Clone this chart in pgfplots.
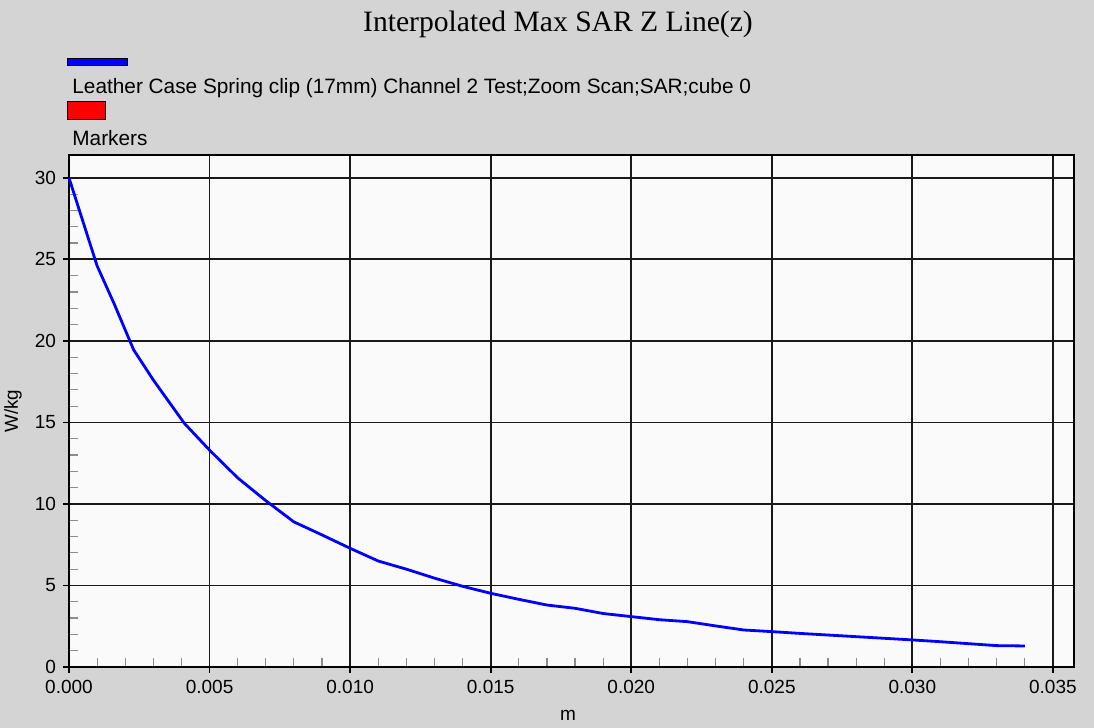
\documentclass[border=0pt]{standalone}
\usepackage{pgfplots}
\pgfplotsset{compat=1.18}
\usepackage{fontspec}
\setmainfont{Liberation Sans}
\newfontfamily\titlefont{Liberation Serif}
\definecolor{panelbg}{HTML}{D4D4D4}
\definecolor{plotbg}{HTML}{FAFAFA}
\definecolor{sarblue}{RGB}{0,0,255}

\pgfplotstableread{
z      sar
0.0000 30.0
0.0005 27.3
0.0010 24.6
0.0016 22.3
0.0023 19.45
0.0030 17.6
0.0041 14.95
0.0050 13.3
0.0060 11.6
0.0070 10.2
0.0080 8.9
0.0090 8.1
0.0100 7.28
0.0110 6.5
0.0120 6.0
0.0130 5.45
0.0140 4.95
0.0150 4.52
0.0160 4.15
0.0170 3.80
0.0180 3.60
0.0190 3.28
0.0200 3.09
0.0210 2.90
0.0220 2.78
0.0230 2.52
0.0240 2.27
0.0250 2.17
0.0260 2.06
0.0270 1.96
0.0280 1.86
0.0290 1.76
0.0300 1.66
0.0310 1.55
0.0320 1.43
0.0330 1.31
0.0340 1.29
}\sartable

\begin{document}
\begin{tikzpicture}
% grey panel, 0.5pt per reference pixel
\fill[panelbg] (-34.5pt,-30.5pt) rectangle (512.5pt,333.5pt);

\begin{axis}[
  scale only axis, width=502.5pt, height=256pt,
  at={(0pt,0pt)}, anchor=south west,
  xmin=0, xmax=0.03575, ymin=0, ymax=31.4,
  xtick={0,0.005,0.010,0.015,0.020,0.025,0.030,0.035},
  ytick={0,5,10,15,20,25,30},
  minor x tick num=4, minor y tick num=4,
  xtick pos=bottom, ytick pos=left,
  scaled x ticks=false,
  xticklabel style={/pgf/number format/.cd, fixed, zerofill, precision=3},
  tick label style={font=\fontsize{9.5}{11}\selectfont},
  /pgf/number format/assume math mode=true,
  tick align=outside, major tick length=3pt, minor tick length=-4.5pt,
  major tick style={black, line width=0.9pt},
  minor tick style={black!45, line width=0.6pt},
  grid=major, major grid style={black!90, line width=0.9pt},
  axis line style={black, line width=0.9pt},
  axis background/.style={fill=plotbg},
  clip=false,
]
\addplot[sarblue, line width=1.4pt] table[x=z, y=sar] {\sartable};
\end{axis}

% title, legend and axis labels
\node[font=\titlefont\fontsize{14.8}{16}\selectfont] at (244.5pt,321.5pt) {Interpolated Max SAR Z Line(z)};
\filldraw[fill=sarblue, draw=black, line width=0.5pt] (-0.5pt,300.5pt) rectangle (29.5pt,304pt);
\node[anchor=west, inner sep=0pt, font=\fontsize{10.4}{12}\selectfont] at (1.5pt,289.5pt) {Leather Case Spring clip (17mm) Channel 2 Test;Zoom Scan;SAR;cube 0};
\filldraw[fill=red, draw=black, line width=0.5pt] (-0.5pt,273.5pt) rectangle (18.5pt,282.5pt);
\node[anchor=west, inner sep=0pt, font=\fontsize{10.4}{12}\selectfont] at (1.5pt,264.5pt) {Markers};
\node[rotate=90, inner sep=0pt, font=\fontsize{9.4}{10}\selectfont] at (-28pt,128pt) {W/kg};
\node[font=\fontsize{9.5}{11}\selectfont] at (249.5pt,-24pt) {m};

\pgfresetboundingbox
\path[use as bounding box] (-34.5pt,-30.5pt) rectangle (512.5pt,333.5pt);
\end{tikzpicture}
\end{document}
